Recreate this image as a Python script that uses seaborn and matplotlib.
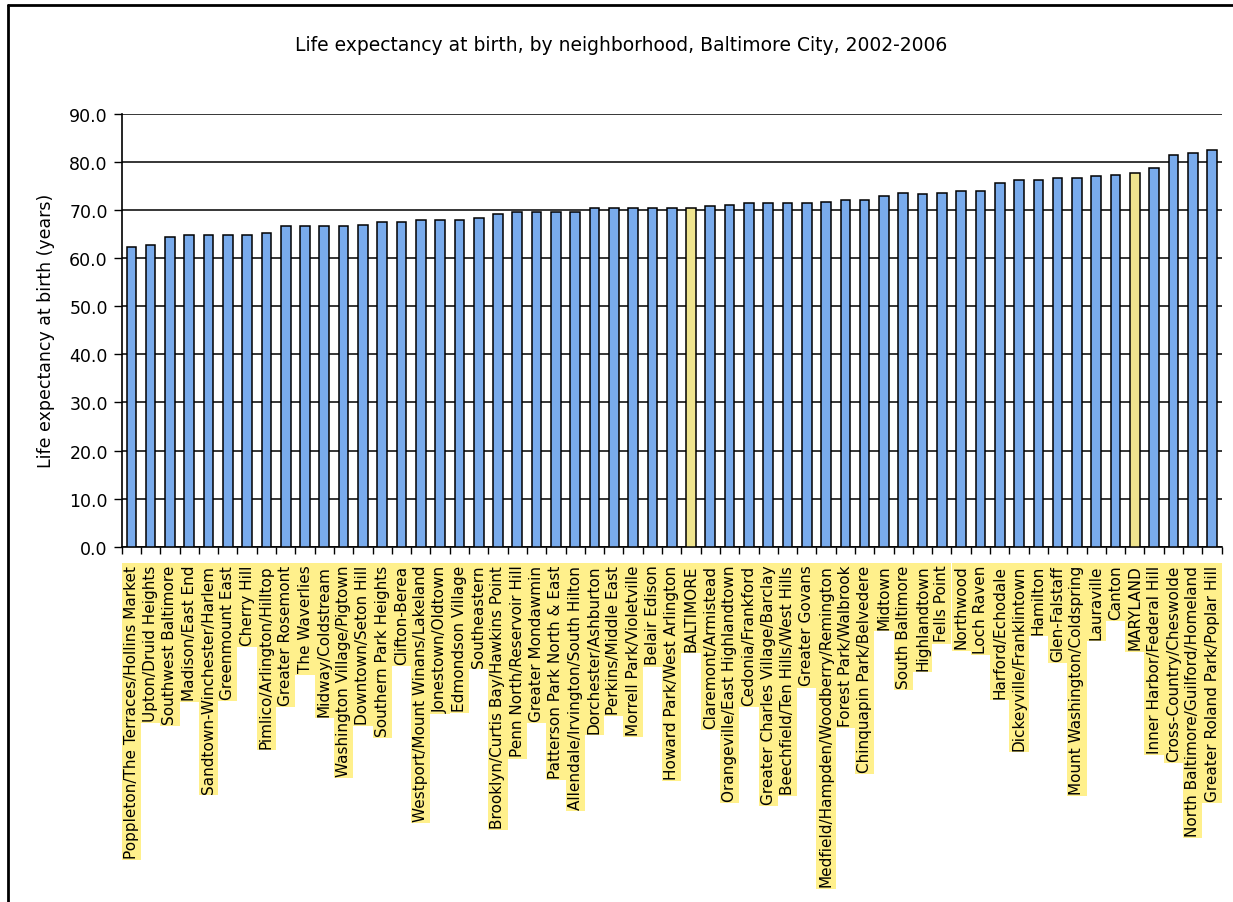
import matplotlib
matplotlib.use("Agg")
import matplotlib.pyplot as plt
from matplotlib.lines import Line2D
from matplotlib.ticker import FixedLocator, MultipleLocator, FormatStrFormatter
import seaborn as sns
import pandas as pd

neighborhoods = [
    "Poppleton/The Terraces/Hollins Market", "Upton/Druid Heights", "Southwest Baltimore",
    "Madison/East End", "Sandtown-Winchester/Harlem", "Greenmount East", "Cherry Hill",
    "Pimlico/Arlington/Hilltop", "Greater Rosemont", "The Waverlies", "Midway/Coldstream",
    "Washington Village/Pigtown", "Downtown/Seton Hill", "Southern Park Heights",
    "Clifton-Berea", "Westport/Mount Winans/Lakeland", "Jonestown/Oldtown",
    "Edmondson Village", "Southeastern", "Brooklyn/Curtis Bay/Hawkins Point",
    "Penn North/Reservoir Hill", "Greater Mondawmin", "Patterson Park North & East",
    "Allendale/Irvington/South Hilton", "Dorchester/Ashburton", "Perkins/Middle East",
    "Morrell Park/Violetville", "Belair Edison", "Howard Park/West Arlington", "BALTIMORE",
    "Claremont/Armistead", "Orangeville/East Highlandtown", "Cedonia/Frankford",
    "Greater Charles Village/Barclay", "Beechfield/Ten Hills/West Hills", "Greater Govans",
    "Medfield/Hampden/Woodberry/Remington", "Forest Park/Walbrook",
    "Chinquapin Park/Belvedere", "Midtown", "South Baltimore", "Highlandtown",
    "Fells Point", "Northwood", "Loch Raven", "Harford/Echodale",
    "Dickeyville/Franklintown", "Hamilton", "Glen-Falstaff", "Mount Washington/Coldspring",
    "Lauraville", "Canton", "MARYLAND", "Inner Harbor/Federal Hill",
    "Cross-Country/Cheswolde", "North Baltimore/Guilford/Homeland",
    "Greater Roland Park/Poplar Hill",
]

life_expectancy = [
    62.3, 62.7, 64.5, 64.9, 64.9, 64.9, 64.9, 65.3, 66.6, 66.6,
    66.6, 66.6, 67.0, 67.5, 67.5, 67.9, 67.9, 67.9, 68.3, 69.2,
    69.6, 69.7, 69.6, 69.7, 70.5, 70.5, 70.5, 70.5, 70.5, 70.5,
    70.8, 71.0, 71.4, 71.4, 71.4, 71.4, 71.7, 72.2, 72.2, 73.0,
    73.5, 73.4, 73.5, 74.0, 74.0, 75.7, 76.2, 76.2, 76.6, 76.6,
    77.1, 77.4, 77.8, 78.7, 81.4, 81.9, 82.6,
]

reference_areas = ["BALTIMORE", "MARYLAND"]

BAR_BLUE = "#66A8FF"
BAR_YELLOW = "#FFF07E"
LABEL_BG = "#FFF08C"

df = pd.DataFrame({"area": neighborhoods, "years": life_expectancy})
palette = {n: (BAR_YELLOW if n in reference_areas else BAR_BLUE) for n in neighborhoods}

sns.set_style("white")
plt.rcParams["font.family"] = ["DejaVu Sans"]
plt.rcParams["text.color"] = "black"
plt.rcParams["axes.labelcolor"] = "black"
plt.rcParams["xtick.color"] = "black"
plt.rcParams["ytick.color"] = "black"

fig = plt.figure(figsize=(12.33, 9.03), dpi=100)
ax = fig.add_axes([0.0987, 0.3935, 0.8921, 0.4792])

sns.barplot(data=df, x="area", y="years", hue="area", palette=palette, order=neighborhoods,
            width=0.5, edgecolor="black", linewidth=1.1, legend=False, ax=ax, zorder=3)

ax.set_xlim(-0.5, len(neighborhoods) - 0.5)
ax.set_ylim(0, 90)
ax.yaxis.set_major_locator(MultipleLocator(10))
ax.yaxis.set_major_formatter(FormatStrFormatter("%.1f"))
ax.grid(axis="y", color="black", linewidth=1.1, zorder=0)
ax.set_axisbelow(True)

for side in ("top", "right"):
    ax.spines[side].set_visible(False)
for side in ("left", "bottom"):
    ax.spines[side].set_color("black")
    ax.spines[side].set_linewidth(1.2)

ax.tick_params(axis="y", which="major", direction="out", length=6, width=1,
               color="black", labelcolor="black", labelsize=12.5, pad=4, left=True)
ax.tick_params(axis="x", which="major", length=0, pad=13, labelsize=11, rotation=90,
               labelcolor="black")
ax.xaxis.set_minor_locator(FixedLocator([i - 0.5 for i in range(len(neighborhoods) + 1)]))
ax.tick_params(axis="x", which="minor", direction="out", length=5, width=1,
               color="black", bottom=True)

for lbl in ax.get_xticklabels():
    lbl.set_bbox(dict(facecolor=LABEL_BG, edgecolor="none", pad=1.5))
    lbl.set_va("top")

ax.set_xlabel("")
ax.set_ylabel("Life expectancy at birth (years)", fontsize=12.5, labelpad=10, color="black")

fig.text(0.504, 0.950, "Life expectancy at birth, by neighborhood, Baltimore City, 2002-2006",
         ha="center", va="center", fontsize=13.5, color="black")

# Chart frame along the left and top edges
fig.add_artist(Line2D([0.0065, 0.0065], [0.0, 0.9935], transform=fig.transFigure,
                      color="black", linewidth=2))
fig.add_artist(Line2D([0.0065, 1.0], [0.9935, 0.9935], transform=fig.transFigure,
                      color="black", linewidth=2))

fig.savefig("out.png", dpi=100, facecolor="white")
